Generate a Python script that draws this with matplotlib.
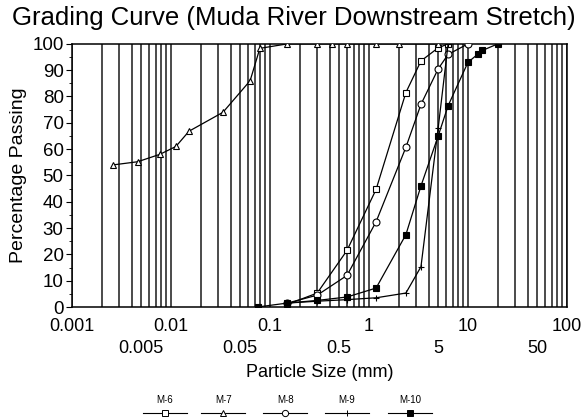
import numpy as np
import matplotlib
matplotlib.use('Agg')
import matplotlib.pyplot as plt
from matplotlib.lines import Line2D
from matplotlib.ticker import LogLocator, FixedLocator, FuncFormatter, MultipleLocator

plt.rcParams['font.family'] = ['Liberation Sans', 'DejaVu Sans']

# sample data
m6_size = [0.15, 0.3, 0.6, 1.18, 2.36, 3.35, 5.0, 6.3]
m6_pass = [1.0, 5.3, 21.5, 44.7, 81.5, 93.5, 98.5, 100]

m7_size = [0.0026, 0.0046, 0.0077, 0.0112, 0.0152, 0.0335, 0.063, 0.079,
           0.15, 0.3, 0.425, 0.6, 1.18, 2.0, 5.0]
m7_pass = [54, 55.2, 58, 61, 66.8, 74, 86, 98.3,
           100, 100, 100, 100, 100, 100, 100]

m8_size = [0.15, 0.3, 0.6, 1.18, 2.36, 3.35, 5.0, 6.3, 10.0]
m8_pass = [1.5, 4.5, 12, 32.4, 60.7, 77, 90.5, 96, 100]

m9_size = [0.15, 0.3, 0.6, 1.18, 2.36, 3.35, 5.0, 6.3]
m9_pass = [1.5, 2.2, 2.8, 3.5, 5.3, 15.3, 68, 100]

m10_size = [0.075, 0.15, 0.3, 0.6, 1.18, 2.36, 3.35, 5.0, 6.3, 10.0, 12.5, 14.0, 20.0]
m10_pass = [0, 1.5, 2.5, 3.8, 7.2, 27.5, 46, 65, 76.5, 93, 96, 97.5, 100]

names = ['M-6', 'M-7', 'M-8', 'M-9', 'M-10']
sizes = [m6_size, m7_size, m8_size, m9_size, m10_size]
passes = [m6_pass, m7_pass, m8_pass, m9_pass, m10_pass]
markers = ['s', '^', 'o', '+', 's']
faces = ['white', 'white', 'white', 'black', 'black']

fig = plt.figure(figsize=(5.83, 4.19), dpi=100)
ax = fig.add_axes([0.1235, 0.2673, 0.849, 0.628])

for s, p, m, fc in zip(sizes, passes, markers, faces):
    ax.plot(s, p, color='black', lw=0.9, marker=m, markersize=5,
            markerfacecolor=fc, markeredgecolor='black', markeredgewidth=0.8, zorder=3)

ax.set_xscale('log')
ax.set_xlim(0.001, 100)
ax.set_ylim(0, 100)

ax.xaxis.set_major_locator(FixedLocator([0.001, 0.01, 0.1, 1, 10, 100]))
ax.xaxis.set_major_formatter(FuncFormatter(lambda v, pos: '%g' % v))
ax.xaxis.set_minor_locator(LogLocator(base=10, subs=np.arange(2, 10)))
ax.xaxis.set_minor_formatter(FuncFormatter(
    lambda v, pos: ('%g' % v) if abs(v / 10 ** np.floor(np.log10(v)) - 5) < 0.01 else ''))
ax.grid(which='both', axis='x', color='#1a1a1a', lw=1.1)
ax.tick_params(axis='x', which='both', length=0, labelsize=13)
ax.tick_params(axis='x', which='major', pad=8)
ax.tick_params(axis='x', which='minor', pad=24)

ax.yaxis.set_major_locator(MultipleLocator(10))
ax.yaxis.set_minor_locator(MultipleLocator(5))
ax.tick_params(axis='y', which='major', length=4, labelsize=13.5, pad=2)
ax.tick_params(axis='y', which='minor', length=2)

for sp in ax.spines.values():
    sp.set_linewidth(1.1)

ax.set_ylabel('Percentage Passing', fontsize=14, labelpad=4)
ax.set_xlabel('Particle Size (mm)', fontsize=13, labelpad=5)
fig.text(0.504, 0.957, 'Grading Curve (Muda River Downstream Stretch)',
         ha='center', va='center', fontsize=18.5)

# legend: label above a short line with marker
leg_x = [0.283, 0.383, 0.489, 0.595, 0.703]
for name, m, fc, cx in zip(names, markers, faces, leg_x):
    fig.text(cx, 0.033, name, ha='center', va='bottom', fontsize=7)
    fig.add_artist(Line2D([cx - 0.038, cx, cx + 0.038], [0.015, 0.015, 0.015],
                          transform=fig.transFigure, color='black', lw=0.8,
                          marker=m, markevery=[1], markersize=4.5,
                          markerfacecolor=fc, markeredgecolor='black', markeredgewidth=0.7))

fig.savefig('out.png', dpi=100)
